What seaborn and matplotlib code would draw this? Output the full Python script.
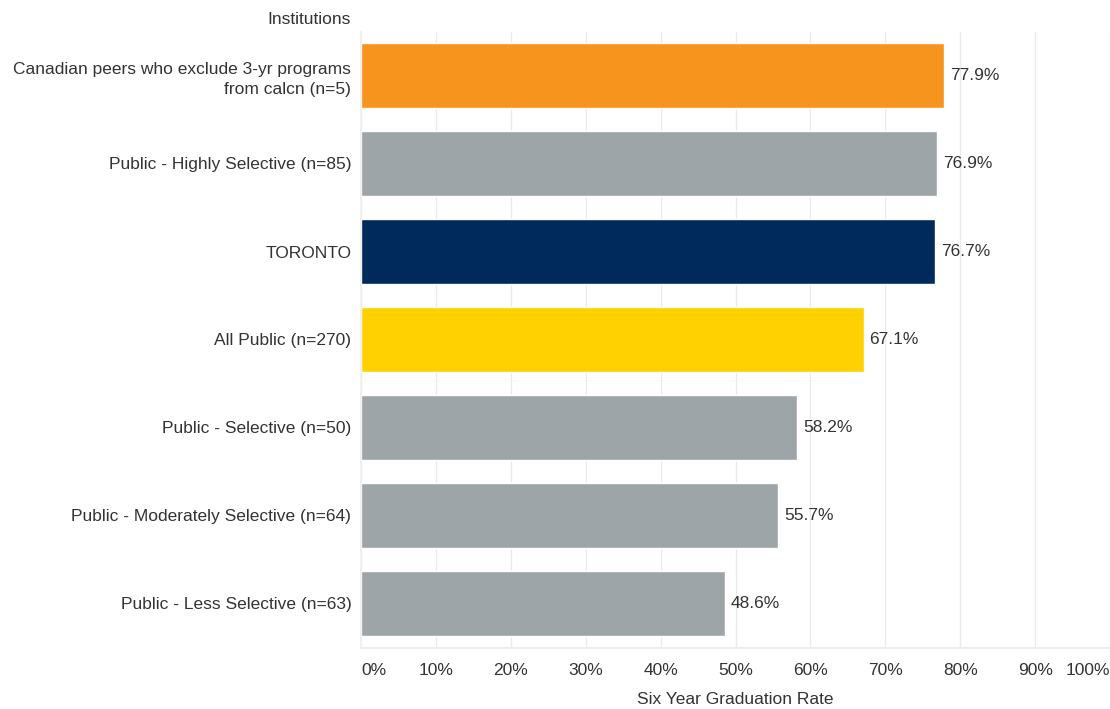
import matplotlib
matplotlib.use("Agg")
import matplotlib.pyplot as plt
import seaborn as sns
import pandas as pd

categories = [
    "Canadian peers who exclude 3-yr programs\nfrom calcn (n=5)",
    "Public - Highly Selective (n=85)",
    "TORONTO",
    "All Public (n=270)",
    "Public - Selective (n=50)",
    "Public - Moderately Selective (n=64)",
    "Public - Less Selective (n=63)",
]
values = [77.9, 76.9, 76.7, 67.1, 58.2, 55.7, 48.6]
bar_colors = ["#F7941D", "#9EA5A8", "#002A5C", "#FFD100", "#9EA5A8", "#9EA5A8", "#9EA5A8"]
tick_values = [0, 10, 20, 30, 40, 50, 60, 70, 80, 90, 100]
tick_labels = [f"{t}%" for t in tick_values]

sns.set_theme(style="white")
plt.rcParams["font.family"] = ["Liberation Sans", "DejaVu Sans"]

df = pd.DataFrame({"cat": categories, "val": values})

fig = plt.figure(figsize=(11.1, 7.09), dpi=100)
ax = fig.add_axes([361 / 1110, 1 - 647.5 / 709, 1 - 361 / 1110, (647.5 - 31.5) / 709])

sns.barplot(data=df, y="cat", x="val", hue="cat", palette=bar_colors,
            orient="h", width=0.74, legend=False, ax=ax, saturation=1)

ax.set_xlim(0, 100)
ax.set_ylim(6.5, -0.5)
ax.set_xticks(tick_values)
ax.set_xticklabels(tick_labels)
labels = ax.get_xticklabels()
labels[0].set_horizontalalignment("left")
labels[-1].set_horizontalalignment("right")
ax.xaxis.grid(True, color="#EBEBEB", linewidth=1)
ax.set_axisbelow(True)
ax.tick_params(axis="x", length=8, color="#EBEBEB", labelsize=12.5, labelcolor="#333333", pad=3)
ax.tick_params(axis="y", length=0, labelsize=12.5, labelcolor="#333333", pad=7)
for lab in ax.get_yticklabels():
    lab.set_horizontalalignment("right")
    lab.set_multialignment("right")
    lab.set_linespacing(1.45)

for s in ["top", "right"]:
    ax.spines[s].set_visible(False)
ax.spines["left"].set_color("#F0F0F0")
ax.spines["bottom"].set_color("#EBEBEB")

ax.set_xlabel("Six Year Graduation Rate", fontsize=12.5, color="#333333", labelpad=10)
ax.set_ylabel("")

for i, v in enumerate(values):
    ax.text(v + 0.8, i, f"{v:.1f}%", va="center", ha="left", fontsize=12.5, color="#333333")

fig.text(351 / 1110, 1 - 20 / 709, "Institutions", ha="right", va="center",
         fontsize=12.5, color="#333333")

fig.savefig("out.png", dpi=100)
